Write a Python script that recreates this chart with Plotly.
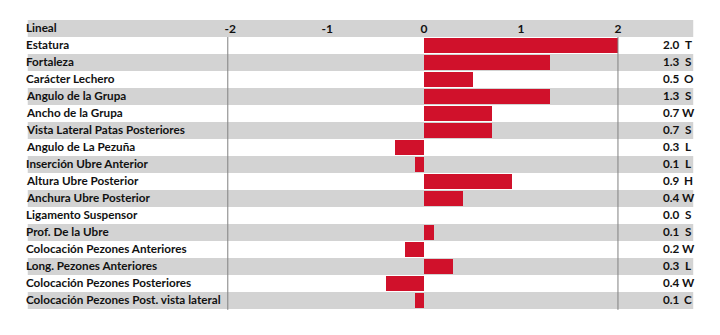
import plotly.graph_objects as go

# Linear type traits: signed deviation and direction code
traits = [
    "Estatura", "Fortaleza", "Carácter Lechero", "Angulo de la Grupa",
    "Ancho de la Grupa", "Vista Lateral Patas Posteriores", "Angulo de La Pezuña",
    "Inserción Ubre Anterior", "Altura Ubre Posterior", "Anchura Ubre Posterior",
    "Ligamento Suspensor", "Prof. De la Ubre", "Colocación Pezones Anteriores",
    "Long. Pezones Anteriores", "Colocación Pezones Posteriores",
    "Colocación Pezones Post. vista lateral",
]
values = [2.0, 1.3, 0.5, 1.3, 0.7, 0.7, -0.3, -0.1, 0.9, 0.4, 0.0, 0.1, -0.2, 0.3, -0.4, -0.1]
codes = ["T", "S", "O", "S", "W", "S", "L", "L", "H", "W", "S", "S", "W", "L", "W", "C"]
header = "Lineal"
tick_values = [-2, -1, 0, 1, 2]

W, H = 720, 335
ROW = 17.0          # row height in px
TOP = 20.0          # top of header row in px
FONT = "Lato"
RED = "#D0112B"
GRAY = "#D3D3D3"

x_dom = [227 / W, 621 / W]
x_rng = [-2.025, 2.0]

rows = list(range(1, len(traits) + 1))
y_top = -(TOP + ROW / 2) / ROW
y_bot = y_top + H / ROW

fig = go.Figure()
fig.add_trace(go.Bar(
    x=values, y=rows, orientation="h", width=15 / 17,
    marker=dict(color=RED, line=dict(width=0)),
    hoverinfo="skip", showlegend=False,
))

shapes = []
# alternating gray bands (header row included)
for i in range(0, len(traits) + 1, 2):
    shapes.append(dict(type="rect", xref="paper", yref="y",
                       x0=25 / W, x1=697 / W, y0=i - 0.5, y1=i + 0.5,
                       fillcolor=GRAY, line=dict(width=0), layer="below"))
# frame lines at the ends of the value scale
for xd in x_dom:
    shapes.append(dict(type="line", xref="paper", yref="y",
                       x0=xd, x1=xd, y0=0.5, y1=len(traits) + 0.55,
                       line=dict(color="#808080", width=1), layer="above"))

ann = []
lab_font = dict(family=FONT, size=11.7, color="#111111")
common = dict(xref="paper", yref="y", yanchor="middle", yshift=1.5,
              showarrow=False, font=lab_font)
ann.append(dict(x=21 / W, y=0, text="<b>%s</b>" % header, xanchor="left", **common))
for r, name, v, c in zip(rows, traits, values, codes):
    ann.append(dict(x=21 / W, y=r, text="<b>%s</b>" % name, xanchor="left", **common))
    ann.append(dict(x=686 / W, y=r, text="<b>%.1f</b>" % abs(v), xanchor="right", **common))
    ann.append(dict(x=692 / W, y=r, text="<b>%s</b>" % c, xanchor="center", **common))

fig.update_layout(
    width=W, height=H,
    margin=dict(l=0, r=0, t=0, b=0),
    paper_bgcolor="white", plot_bgcolor="rgba(0,0,0,0)",
    shapes=shapes, annotations=ann, bargap=0,
    xaxis=dict(domain=x_dom, range=x_rng, side="top", anchor="free",
               position=1 - (TOP + ROW - 1.5) / H,
               tickvals=tick_values, ticktext=["<b>%d</b>" % t for t in tick_values],
               ticks="", showgrid=False, zeroline=False, showline=False,
               tickfont=dict(family=FONT, size=12, color="#111111"), fixedrange=True),
    yaxis=dict(domain=[0, 1], range=[y_bot, y_top], showticklabels=False,
               showgrid=False, zeroline=False, showline=False, fixedrange=True),
)

fig.write_html("out.html")
